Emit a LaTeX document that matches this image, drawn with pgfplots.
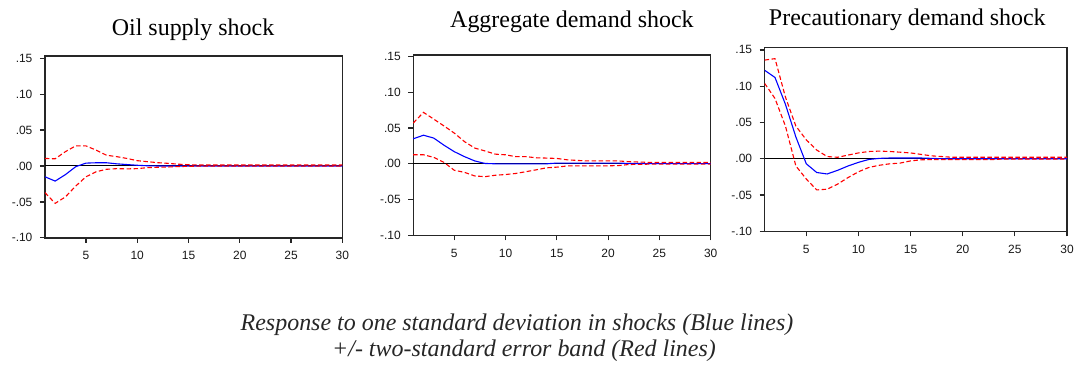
\documentclass[border=0pt]{standalone}
\usepackage{fontspec}
\setmainfont{Liberation Serif}
\setsansfont{Liberation Sans}
\usepackage{pgfplots}
\usepackage{pgfplotstable}
\pgfplotsset{compat=1.18}

\pgfplotstableread{
h irf lo hi
1 -0.015 -0.037 0.0105
2 -0.021 -0.052 0.010
3 -0.012 -0.043 0.020
4 -0.001 -0.028 0.028
5 0.004 -0.015 0.028
6 0.0045 -0.008 0.022
7 0.0045 -0.0046 0.015
8 0.003 -0.0037 0.013
9 0.002 -0.004 0.0105
10 0.001 -0.0037 0.0074
11 0.0003 -0.0023 0.006
12 0.0 -0.0018 0.0046
13 0.0 -0.0014 0.0037
14 0.0 -0.0008 0.0025
15 0.0 -0.0005 0.0018
16 0.0 -0.0002 0.0014
18 0.0 -0.0002 0.0014
20 0.0 -0.0002 0.0014
22 0.0 -0.0002 0.0014
24 0.0 -0.0002 0.0014
26 0.0 -0.0002 0.0014
28 0.0 -0.0002 0.0014
30 0.0 -0.0002 0.0014
}\oilsupply

\pgfplotstableread{
h irf lo hi
1 0.035 0.0126 0.057
2 0.040 0.0126 0.072
3 0.036 0.009 0.0625
4 0.026 0.002 0.053
5 0.017 -0.009 0.043
6 0.010 -0.012 0.031
7 0.004 -0.017 0.022
8 0.0005 -0.018 0.018
9 0 -0.016 0.0135
10 0 -0.015 0.0126
11 0 -0.0135 0.010
12 0 -0.011 0.010
13 0 -0.0084 0.0084
14 0 -0.0056 0.008
15 0.001 -0.0047 0.0075
16 0.001 -0.003 0.0056
17 0.001 -0.0028 0.0047
18 0.001 -0.0028 0.004
19 0.001 -0.0028 0.004
20 0.001 -0.0028 0.004
21 0.001 -0.0025 0.004
22 0.0005 -0.001 0.003
24 0.0003 -0.0005 0.002
26 0.0003 -0.0005 0.002
28 0.0003 -0.0005 0.002
30 0.0003 -0.0005 0.002
}\aggdemand

\pgfplotstableread{
h irf lo hi
1 0.122 0.104 0.136
2 0.112 0.083 0.138
3 0.075 0.045 0.085
4 0.030 -0.010 0.045
5 -0.007 -0.028 0.026
6 -0.019 -0.043 0.012
7 -0.021 -0.042 0.003
8 -0.016 -0.035 0.002
9 -0.010 -0.026 0.005
10 -0.005 -0.018 0.008
11 -0.001 -0.012 0.010
12 0.0005 -0.009 0.0105
13 0.001 -0.007 0.010
14 0.001 -0.006 0.009
15 0.001 -0.003 0.008
16 0.001 -0.0015 0.006
17 0.0005 -0.001 0.004
18 0 -0.001 0.003
19 0 -0.001 0.002
20 0 -0.001 0.002
21 0 -0.001 0.002
22 0 -0.001 0.002
23 0 -0.001 0.002
24 0 -0.0003 0.002
26 0 -0.0003 0.002
28 0 -0.0003 0.002
30 0 -0.0003 0.002
}\precdemand

\pgfplotsset{
  irfaxis/.style={
    scale only axis,
    xmin=1, xmax=30, ymin=-0.10,
    xtick={5,10,15,20,25,30},
    xticklabels={5,10,15,20,25,30},
    ytick={-0.10,-0.05,0,0.05,0.10,0.15},
    yticklabels={-.10,-.05,.00,.05,.10,.15},
    tick align=outside,
    xtick pos=bottom, ytick pos=left,
    major tick length=5pt,
    xticklabel shift=5pt,
    yticklabel shift=4pt,
    axis line style={line width=1.4pt, black!85},
    every tick/.style={line width=1.2pt, black!85},
    tick label style={font=\fontsize{12}{13}\sffamily, text=black!90},
    anchor=north west,
  },
  zero/.style={black, line width=1pt},
  irf/.style={blue, line width=1.1pt},
  band/.style={red, line width=1.1pt, dash pattern=on 4.5pt off 2.5pt},
}

\begin{document}
\begin{tikzpicture}[x=1pt,y=1pt]
\path (0,0) rectangle (1077,-366);

\begin{axis}[irfaxis, at={(45pt,-56pt)}, width=298pt, height=182.3pt, ymax=0.1532]
\addplot[zero] coordinates {(1,0) (30,0)};
\addplot[irf] table[x=h,y=irf] {\oilsupply};
\addplot[band] table[x=h,y=hi] {\oilsupply};
\addplot[band] table[x=h,y=lo] {\oilsupply};
\end{axis}

\begin{axis}[irfaxis, at={(414pt,-55pt)}, width=298pt, height=180.7pt, ymax=0.1524]
\addplot[zero] coordinates {(1,0) (30,0)};
\addplot[irf] table[x=h,y=irf] {\aggdemand};
\addplot[band] table[x=h,y=hi] {\aggdemand};
\addplot[band] table[x=h,y=lo] {\aggdemand};
\end{axis}

\begin{axis}[irfaxis, at={(766pt,-47.7pt)}, width=303pt, height=184pt, ymax=0.1532]
\addplot[zero] coordinates {(1,0) (30,0)};
\addplot[irf] table[x=h,y=irf] {\precdemand};
\addplot[band] table[x=h,y=hi] {\precdemand};
\addplot[band] table[x=h,y=lo] {\precdemand};
\end{axis}

\node[anchor=base, font=\fontsize{24}{28}\selectfont, inner sep=0pt] at (193.4,-36) {Oil supply shock};
\node[anchor=base, font=\fontsize{24}{28}\selectfont, inner sep=0pt] at (573,-28) {Aggregate demand shock};
\node[anchor=base, font=\fontsize{24}{28}\selectfont, inner sep=0pt] at (909,-26) {Precautionary demand shock};

\node[anchor=base, font=\fontsize{24}{28}\selectfont\itshape, text=black!85, inner sep=0pt] at (518,-331) {Response to one standard deviation in shocks (Blue lines)};
\node[anchor=base, font=\fontsize{24}{28}\selectfont\itshape, text=black!85, inner sep=0pt] at (525,-357) {+/- two-standard error band (Red lines)};
\end{tikzpicture}
\end{document}
